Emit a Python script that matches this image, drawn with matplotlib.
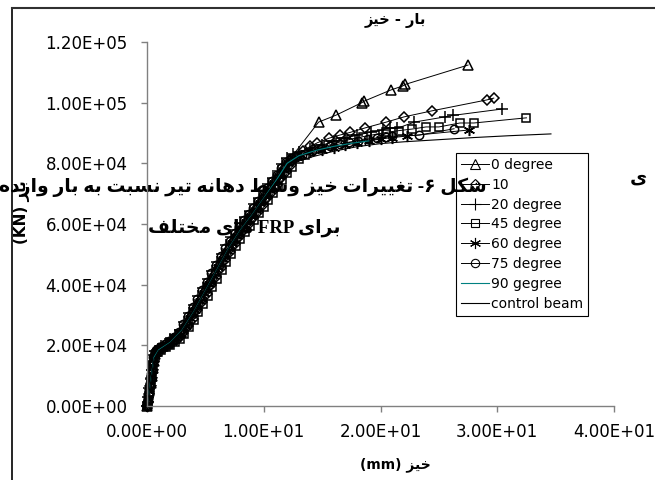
import matplotlib
matplotlib.use("Agg")
import matplotlib.pyplot as plt
from matplotlib.lines import Line2D
from matplotlib.ticker import FuncFormatter, MultipleLocator

# ---- data (deflection mm, load) ----
x0 = [0, 0.1, 0.2, 0.3, 0.4, 0.5, 0.6, 0.7, 0.8, 1.0, 1.4, 1.8, 2.2, 2.6, 3.0, 3.4, 3.8, 4.2, 4.6, 5.0,
      5.4, 5.8, 6.2, 6.6, 7.0, 7.4, 7.8, 8.2, 8.6, 9.0, 9.4, 9.8, 10.2, 10.6, 11.0, 11.4, 11.8, 12.2,
      14.7, 16.2, 18.4, 18.6, 20.9, 21.9, 22.1, 27.5]
y0 = [0, 2500, 5000, 7500, 10000, 12500, 15000, 17000, 18200, 19000, 19900, 20800, 22000, 23300, 25300,
      27800, 30500, 33200, 36000, 38800, 41600, 44400, 47200, 50000, 52600, 55000, 57400, 59500, 61600,
      63600, 65800, 68000, 70200, 72400, 74600, 76800, 79000, 81200,
      93600, 95900, 100000, 100500, 104200, 105500, 106000, 112400]

x1 = [0, 0.05, 0.15, 0.25, 0.35, 0.45, 0.55, 0.65, 0.8, 1.1, 1.5, 1.9, 2.3, 2.7, 3.1, 3.5, 3.9, 4.3, 4.7,
      5.1, 5.5, 5.9, 6.3, 6.7, 7.1, 7.5, 7.9, 8.3, 8.7, 9.1, 9.5, 9.9, 10.3, 10.7, 11.1, 11.5, 11.9, 12.3,
      12.8, 13.4, 14.0, 14.6, 15.6, 16.5, 17.4, 18.7, 20.5, 22.0, 24.4, 29.1, 29.7]
y1 = [0, 1200, 3800, 6500, 9200, 11800, 14500, 16500, 18000, 18700, 19500, 20300, 21300, 22400, 24000,
      26300, 28800, 31500, 34200, 37000, 39800, 42600, 45400, 48200, 50800, 53300, 55700, 57900, 60000,
      62000, 64100, 66300, 68500, 70700, 72900, 75100, 77300, 79600, 82200, 84200, 85600, 86800, 88300,
      89300, 90200, 91700, 93600, 95300, 97300, 100900, 101500]

x2 = [0, 0.1, 0.2, 0.3, 0.4, 0.5, 0.6, 0.7, 0.9, 1.2, 1.6, 2.0, 2.4, 2.8, 3.2, 3.6, 4.0, 4.4, 4.8, 5.2,
      5.6, 6.0, 6.4, 6.8, 7.2, 7.6, 8.0, 8.4, 8.8, 9.2, 9.6, 10.0, 10.4, 10.8, 11.2, 11.6, 12.0, 12.5,
      13.0, 14.0, 15.0, 16.0, 17.0, 18.0, 19.2, 20.2, 20.8, 21.4, 22.9, 25.5, 26.2, 30.4]
y2 = [0, 3000, 6000, 9000, 12000, 14500, 16800, 18000, 18800, 19800, 20800, 22000, 23400, 25200, 27800,
      30600, 33400, 36200, 39000, 41800, 44600, 47400, 50200, 53000, 55600, 58000, 60200, 62300, 64400,
      66500, 68700, 70900, 73100, 75300, 77500, 79700, 81800, 83000, 83800, 84800, 86000, 87200, 88300,
      89300, 90300, 91000, 91800, 91500, 93600, 95300, 95800, 97900]

x3 = [0, 0.05, 0.15, 0.25, 0.35, 0.45, 0.55, 0.7, 0.9, 1.2, 1.6, 2.0, 2.4, 2.8, 3.2, 3.6, 4.0, 4.4, 4.8,
      5.2, 5.6, 6.0, 6.4, 6.8, 7.2, 7.6, 8.0, 8.4, 8.8, 9.2, 9.6, 10.0, 10.4, 10.8, 11.2, 11.6, 12.0, 12.4,
      13.0, 13.5, 14.5, 15.5, 16.5, 17.5, 18.5, 19.5, 20.5, 21.6, 22.7, 23.9, 25.0, 26.8, 28.0, 32.5]
y3 = [0, 1000, 3500, 6000, 8500, 11000, 13500, 16000, 17800, 18500, 19300, 20100, 21000, 22100, 23800,
      25900, 28400, 31000, 33700, 36400, 39200, 42000, 44800, 47600, 50200, 52700, 55100, 57300, 59400,
      61400, 63500, 65700, 67900, 70100, 72300, 74500, 76700, 78900, 81500, 82800, 84600, 85900, 87000,
      88000, 88800, 89500, 90200, 90800, 91300, 92000, 92000, 93300, 93300, 95000]

x4 = [0, 0.1, 0.2, 0.3, 0.4, 0.5, 0.6, 0.75, 0.9, 1.3, 1.7, 2.1, 2.5, 2.9, 3.3, 3.7, 4.1, 4.5, 4.9, 5.3,
      5.7, 6.1, 6.5, 6.9, 7.3, 7.7, 8.1, 8.5, 8.9, 9.3, 9.7, 10.1, 10.5, 10.9, 11.3, 11.7, 12.1, 12.6,
      13.2, 14.0, 15.0, 16.0, 17.0, 18.0, 19.0, 20.0, 21.0, 22.3, 27.6]
y4 = [0, 2200, 4800, 7600, 10300, 13000, 15500, 17500, 18400, 19300, 20200, 21200, 22400, 23900, 26300,
      29000, 31800, 34500, 37300, 40100, 42900, 45700, 48500, 51200, 53800, 56200, 58500, 60600, 62600,
      64700, 66900, 69100, 71300, 73500, 75700, 77900, 80000, 81800, 82800, 83700, 84500, 85200, 86000,
      86800, 87400, 88000, 88500, 89000, 91000]

x5 = [0, 0.05, 0.15, 0.25, 0.35, 0.45, 0.55, 0.65, 0.8, 1.1, 1.5, 1.9, 2.3, 2.7, 3.1, 3.5, 3.9, 4.3, 4.7,
      5.1, 5.5, 5.9, 6.3, 6.7, 7.1, 7.5, 7.9, 8.3, 8.7, 9.1, 9.5, 9.9, 10.3, 10.7, 11.1, 11.5, 11.9, 12.3,
      12.8, 13.3, 14.1, 14.9, 15.7, 16.5, 17.3, 18.1, 18.9, 19.7, 20.5, 21.0, 23.3, 26.3]
y5 = [0, 1600, 4600, 7600, 10600, 13400, 16000, 17800, 18600, 19400, 20400, 21500, 22800, 24400, 26900,
      29700, 32500, 35300, 38100, 40900, 43700, 46500, 49300, 52000, 54500, 56900, 59100, 61200, 63200,
      65300, 67500, 69700, 71900, 74100, 76300, 78500, 80500, 81700, 82400, 82900, 84000, 84900, 85700,
      86400, 87000, 87500, 88000, 88400, 88700, 88900, 89300, 91400]

x6 = [0, 0.3, 0.6, 1.0, 2.0, 3.0, 4.0, 5.0, 6.0, 7.0, 8.0, 9.0, 10.0, 11.0, 12.0, 13.0, 14.5, 16.0, 17.5, 19.0]
y6 = [0, 8000, 16000, 18500, 21000, 25000, 31000, 38000, 45000, 52000, 58000, 63000, 68500, 74000, 80000,
      82500, 84300, 85600, 86600, 87400]

x7 = [0, 0.3, 0.6, 1.0, 2.0, 3.0, 4.0, 5.0, 6.0, 7.0, 8.0, 9.0, 10.0, 11.0, 12.0, 13.0, 14.0, 16.0, 18.0,
      20.0, 22.0, 25.0, 28.0, 31.0, 34.6]
y7 = [0, 7500, 15500, 18200, 20800, 24800, 30800, 37800, 44800, 51800, 57800, 62800, 68300, 73500, 78500,
      80800, 82000, 84000, 85500, 86500, 87100, 87800, 88500, 89100, 89700]

labels = ["0 degree", "10", "20 degree", "45 degree", "60 degree", "75 degree", "90 gegree", "control beam"]

title_txt = "بار - خیز"
xlabel_txt = "خیز (mm)"
ylabel_txt = "بار (KN)"
caption1 = "شکل ۶- تغییرات خیز وسط دهانه تیر نسبت به بار وارده"
caption2 = "برای FRP های مختلف"
stray_txt = "ی"

# ---- crude persian shaping (no bidi lib available) ----
FORMS = {
    '\u0627': (0xFE8D, 0xFE8E, None, None),
    '\u0628': (0xFE8F, 0xFE90, 0xFE91, 0xFE92),
    '\u062A': (0xFE95, 0xFE96, 0xFE97, 0xFE98),
    '\u062E': (0xFEA5, 0xFEA6, 0xFEA7, 0xFEA8),
    '\u062F': (0xFEA9, 0xFEAA, None, None),
    '\u0631': (0xFEAD, 0xFEAE, None, None),
    '\u0632': (0xFEAF, 0xFEB0, None, None),
    '\u0633': (0xFEB1, 0xFEB2, 0xFEB3, 0xFEB4),
    '\u0634': (0xFEB5, 0xFEB6, 0xFEB7, 0xFEB8),
    '\u0637': (0xFEC1, 0xFEC2, 0xFEC3, 0xFEC4),
    '\u063A': (0xFECD, 0xFECE, 0xFECF, 0xFED0),
    '\u0641': (0xFED1, 0xFED2, 0xFED3, 0xFED4),
    '\u0644': (0xFEDD, 0xFEDE, 0xFEDF, 0xFEE0),
    '\u0645': (0xFEE1, 0xFEE2, 0xFEE3, 0xFEE4),
    '\u0646': (0xFEE5, 0xFEE6, 0xFEE7, 0xFEE8),
    '\u0647': (0xFEE9, 0xFEEA, 0xFEEB, 0xFEEC),
    '\u0648': (0xFEED, 0xFEEE, None, None),
    '\u06A9': (0xFB8E, 0xFB8F, 0xFB90, 0xFB91),
    '\u06CC': (0xFBFC, 0xFBFD, 0xFBFE, 0xFBFF),
}


def shape(word):
    word = word.replace('\u0643', '\u06A9').replace('\u064A', '\u06CC')
    out = []
    for i, ch in enumerate(word):
        f = FORMS.get(ch)
        if f is None:
            out.append(ch)
            continue
        prev = word[i - 1] if i > 0 else None
        nxt = word[i + 1] if i + 1 < len(word) else None
        jp = prev in FORMS and FORMS[prev][2] is not None
        jn = f[2] is not None and nxt in FORMS
        if jp and jn:
            out.append(chr(f[3]))
        elif jp:
            out.append(chr(f[1]))
        elif jn:
            out.append(chr(f[2]))
        else:
            out.append(chr(f[0]))
    return ''.join(out)


def visual(s):
    toks = s.split(' ')
    out = []
    for t in reversed(toks):
        if any('\u0600' <= c <= '\u06FF' for c in t):
            out.append(shape(t)[::-1])
        else:
            out.append(t)
    return ' '.join(out)


W, H = 655, 480
fig = plt.figure(figsize=(6.55, 4.8), dpi=100)
ax = fig.add_axes([147 / W, 1 - 406 / H, 467 / W, 364 / H])

star = (6, 2, 0)
styles = [
    dict(marker='^', ms=7),
    dict(marker='D', ms=5),
    dict(marker='+', ms=8),
    dict(marker='s', ms=6),
    dict(marker=star, ms=8),
    dict(marker='o', ms=6),
]
xs = [x0, x1, x2, x3, x4, x5]
ys = [y0, y1, y2, y3, y4, y5]
for xx, yy, st, lab in zip(xs, ys, styles, labels):
    ax.plot(xx, yy, color='black', lw=0.7, mfc='none', mec='black', mew=1.1,
            label=lab, zorder=2, clip_on=False, **st)
ax.plot(x6, y6, color='#008080', lw=0.8, label=labels[6], zorder=2)
ax.plot(x7, y7, color='black', lw=0.8, label=labels[7], zorder=2)

ax.set_xlim(0, 40)
ax.set_ylim(0, 120000)
ax.xaxis.set_major_locator(MultipleLocator(10))
ax.yaxis.set_major_locator(MultipleLocator(20000))
fmt = FuncFormatter(lambda v, p: f"{v:.2E}")
ax.xaxis.set_major_formatter(fmt)
ax.yaxis.set_major_formatter(fmt)

for s in ['top', 'right']:
    ax.spines[s].set_visible(False)
for s in ['left', 'bottom']:
    ax.spines[s].set_color('#808080')
    ax.spines[s].set_linewidth(1)
ax.tick_params(direction='out', length=4, width=1, color='#808080', labelsize=12,
               labelcolor='black')
ax.tick_params(axis='y', pad=10)
ax.tick_params(axis='x', pad=8)

leg = ax.legend(loc='upper left', bbox_to_anchor=(456 / W, 1 - 153 / H), bbox_transform=fig.transFigure,
                borderaxespad=0, fontsize=10, frameon=True, fancybox=False, edgecolor='black',
                framealpha=1, borderpad=0.35, handlelength=2.0, handletextpad=0.2, labelspacing=0.42)
leg.get_frame().set_linewidth(0.8)
for h in leg.legend_handles:
    h.set_markeredgewidth(0.8)
leg.set_zorder(1)

tf = fig.transFigure
bold_fam = ['DejaVu Sans']
ax.text(395 / W, 1 - 20 / H, visual(title_txt), transform=tf, ha='center', va='center',
        fontsize=10.5, fontweight='bold', family=bold_fam, clip_on=False)
ax.text(395 / W, 1 - 465 / H, visual(xlabel_txt), transform=tf, ha='center', va='center',
        fontsize=10, fontweight='bold', family=bold_fam, clip_on=False)
ax.text(22 / W, 1 - 212 / H, visual(ylabel_txt), transform=tf, ha='center', va='center',
        rotation=90, fontsize=11, fontweight='bold', family=bold_fam, clip_on=False, zorder=1.2)

cap_fam = ['Liberation Serif', 'DejaVu Sans']
ax.text(243 / W, 1 - 187 / H, visual(caption1), transform=tf, ha='center', va='center',
        fontsize=13.5, fontweight='bold', family=cap_fam, clip_on=False, zorder=1.5)
ax.text(244 / W, 1 - 228 / H, visual(caption2), transform=tf, ha='center', va='center',
        fontsize=13.5, fontweight='bold', family=cap_fam, clip_on=False, zorder=1.5)
ax.text(638 / W, 1 - 178 / H, visual(stray_txt), transform=tf, ha='center', va='center',
        fontsize=13.5, fontweight='bold', family=cap_fam, clip_on=False, zorder=1.5)

# chart frame (only left and top edge visible in the crop)
fig.add_artist(Line2D([12 / W, 12 / W], [0, 1 - 8 / H], transform=tf, color='black', lw=1.2))
fig.add_artist(Line2D([12 / W, 1], [1 - 8 / H, 1 - 8 / H], transform=tf, color='#303030', lw=1.5))

fig.savefig('out.png', dpi=100)
